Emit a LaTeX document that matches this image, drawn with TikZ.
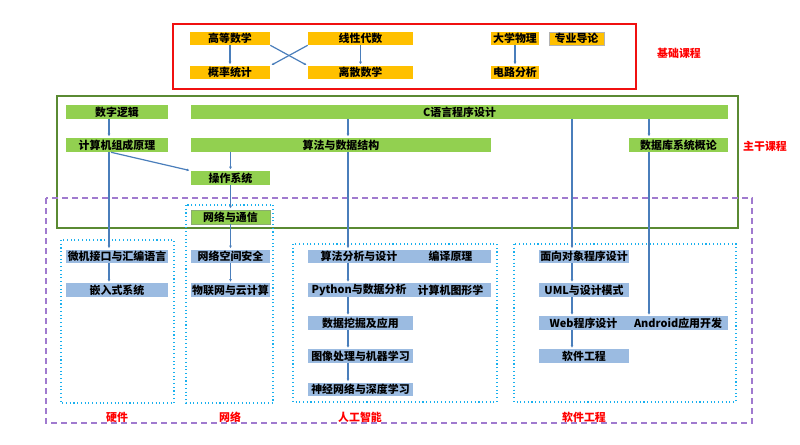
\documentclass[tikz,border=0pt]{standalone}
\usepackage{fontspec}
\setmainfont{Noto Sans CJK SC}
\usetikzlibrary{arrows.meta}
\definecolor{boxorange}{HTML}{FFC000}
\definecolor{boxgreen}{HTML}{92D050}
\definecolor{boxblue}{HTML}{9BBBE1}
\definecolor{linkblue}{HTML}{4A7EBB}
\definecolor{framered}{HTML}{F01010}
\definecolor{framegreen}{HTML}{5A8A32}
\definecolor{framepurple}{HTML}{A07ACF}
\definecolor{zonecyan}{HTML}{1AB0EE}
\tikzset{
  box/.style={inner sep=0pt, minimum height=10.5pt, text=black,
    font=\fontsize{8.2}{9}\selectfont\bfseries},
  obox/.style={box, fill=boxorange, minimum height=9.75pt},
  gbox/.style={box, fill=boxgreen},
  bbox/.style={box, fill=boxblue, minimum height=10pt},
  zone/.style={draw=zonecyan, dotted, line width=0.8pt},
  tag/.style={text=red, inner sep=0pt, font=\fontsize{8.2}{9}\selectfont\bfseries},
  link/.style={draw=linkblue, line width=0.9pt, shorten >=1pt,
    -{Latex[length=2pt,width=2.2pt]}}
}
\begin{document}
\begin{tikzpicture}[x=0.75pt,y=-0.75pt]
  \useasboundingbox (0,0) rectangle (800,444);
  \draw[framered, line width=1.1pt] (173,24) rectangle (636,89);
  \draw[framegreen, line width=1.1pt] (57,96) rectangle (738,228);
  \draw[framepurple, line width=1.1pt, dash pattern=on 4.5pt off 3pt] (46,198) rectangle (752,423);
  \draw[zone] (61,240) rectangle (174,403);
  \draw[zone] (186,205) rectangle (273,403);
  \draw[zone] (293,244) rectangle (497,402);
  \draw[zone] (514,244) rectangle (736,402);

  \node[obox, minimum width=60pt] (gdsx) at (230,38.5) {高等数学};
  \node[obox, minimum width=78.75pt] (xxds) at (360.5,38.5) {线性代数};
  \node[obox, minimum width=60pt] (glts) at (230,72.5) {概率统计};
  \node[obox, minimum width=78.75pt] (lsss) at (360.5,72.5) {离散数学};
  \node[obox, minimum width=36pt] (dxwl) at (515,38.5) {大学物理};
  \node[obox, minimum width=41.25pt, draw=gray!60] (zydl) at (576.5,38.5) {专业导论};
  \node[obox, minimum width=36pt] (dlfx) at (515,72.5) {电路分析};

  \node[gbox, minimum width=76.5pt] (szlj) at (117,112) {数字逻辑};
  \node[gbox, minimum width=402.75pt] (cyy) at (459.5,112) {C语言程序设计};
  \node[gbox, minimum width=76.5pt] (jsjzc) at (117,145) {计算机组成原理};
  \node[gbox, minimum width=225pt] (sfsj) at (341,145) {算法与数据结构};
  \node[gbox, minimum width=74.25pt] (sjk) at (678.5,145) {数据库系统概论};
  \node[gbox, minimum width=59.25pt] (czxt) at (230.5,178) {操作系统};
  \node[gbox, minimum width=59.25pt, draw=framegreen!70, line width=0.4pt] (wltx) at (230.5,217) {网络与通信};

  \node[bbox, minimum width=76.5pt] (wjjk) at (117,256.5) {微机接口与汇编语言};
  \node[bbox, minimum width=76.5pt] (qrs) at (117,290) {嵌入式系统};
  \node[bbox, minimum width=59.25pt] (wlaq) at (230.5,256.5) {网络空间安全};
  \node[bbox, minimum width=59.25pt] (wlw) at (230.5,290) {物联网与云计算};

  \node[bbox, minimum width=76.5pt] (sffx) at (359,256.5) {算法分析与设计};
  \node[bbox, minimum width=60.75pt] (byyl) at (450.5,256.5) {编译原理};
  \node[bbox, minimum width=76.5pt] (pysj) at (359,290) {Python与数据分析};
  \node[bbox, minimum width=60.75pt] (jsjtx) at (450.5,290) {计算机图形学};
  \node[bbox, minimum width=78.75pt] (sjwj) at (360.5,323) {数据挖掘及应用};
  \node[bbox, minimum width=78.75pt] (txcl) at (360.5,356) {图像处理与机器学习};
  \node[bbox, minimum width=78.75pt] (sjwl) at (360.5,389.5) {神经网络与深度学习};

  \node[bbox, minimum width=67.5pt] (mxdx) at (584,256.5) {面向对象程序设计};
  \node[bbox, minimum width=67.5pt] (uml) at (584,290) {UML与设计模式};
  \node[bbox, minimum width=66.75pt] (web) at (583.5,323) {Web程序设计};
  \node[bbox, minimum width=75pt] (andr) at (678,323) {Android应用开发};
  \node[bbox, minimum width=67.5pt] (rjgc) at (584,356) {软件工程};

  \node[tag] (jckc) at (679,53) {基础课程};
  \node[tag] (zgkc) at (765,146) {主干课程};
  \node[tag] (yj) at (117,417) {硬件};
  \node[tag] (wl) at (230,417) {网络};
  \node[tag] (rgzn) at (360,417) {人工智能};
  \node[tag] (rjgct) at (584,417) {软件工程};

  \coordinate (hw) at (109,0);
  \coordinate (ai) at (348,0);
  \coordinate (se) at (572,0);
  \coordinate (db) at (649,0);
  \begin{scope}[link]
    \draw (gdsx) to (glts);
    \draw (xxds) to (lsss);
    \draw (gdsx.south east) to (lsss.north west);
    \draw (xxds.south west) to (glts.north east);
    \draw (dxwl) to (dlfx);
    \draw (szlj.south -| hw) to (jsjzc.north -| hw);
    \draw (jsjzc.south -| hw) to (wjjk.north -| hw);
    \draw (wjjk.south -| hw) to (qrs.north -| hw);
    \draw ([xshift=-4.5pt]jsjzc.south) to (czxt.north west);
    \draw (sfsj.south -| czxt.north) to (czxt.north);
    \draw (czxt) to (wltx);
    \draw (wltx) to (wlaq);
    \draw (wlaq) to (wlw);
    \draw (cyy.south -| ai) to (sfsj.north -| ai);
    \draw (sfsj.south -| ai) to (sffx.north -| ai);
    \draw (sffx.south -| ai) to (pysj.north -| ai);
    \draw (pysj.south -| ai) to (sjwj.north -| ai);
    \draw (sjwj.south -| ai) to (txcl.north -| ai);
    \draw (txcl.south -| ai) to (sjwl.north -| ai);
    \draw (cyy.south -| se) to (mxdx.north -| se);
    \draw (mxdx.south -| se) to (uml.north -| se);
    \draw (uml.south -| se) to (web.north -| se);
    \draw (web.south -| se) to (rjgc.north -| se);
    \draw (cyy.south -| db) to (sjk.north -| db);
    \draw (sjk.south -| db) to (andr.north -| db);
  \end{scope}
\end{tikzpicture}
\end{document}
